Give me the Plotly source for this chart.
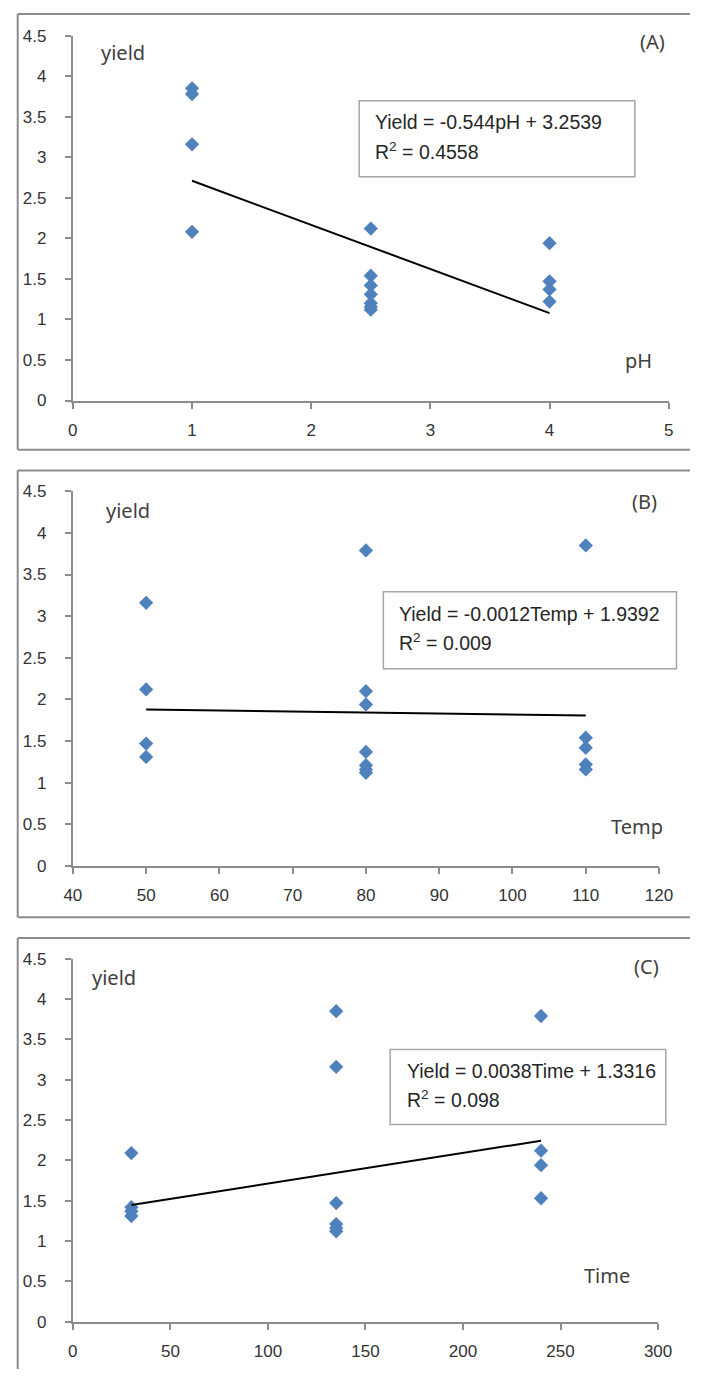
import plotly.graph_objects as go

W, H = 704, 1379

# ---------------- data ----------------
ph_x = [1, 1, 1, 1, 2.5, 2.5, 2.5, 2.5, 2.5, 2.5, 2.5, 4, 4, 4, 4]
ph_y = [3.85, 3.78, 3.16, 2.08, 2.12, 1.54, 1.42, 1.31, 1.20, 1.155, 1.12, 1.94, 1.47, 1.37, 1.22]
ph_fit = (-0.544, 3.2539)
ph_fit_range = [1, 4]

temp_x = [50, 50, 50, 50, 80, 80, 80, 80, 80, 80, 80, 110, 110, 110, 110, 110]
temp_y = [3.16, 2.12, 1.47, 1.31, 3.79, 2.10, 1.94, 1.37, 1.21, 1.16, 1.12, 3.85, 1.54, 1.42, 1.22, 1.16]
temp_fit = (-0.0012, 1.9392)
temp_fit_range = [50, 110]

time_x = [30, 30, 30, 30, 135, 135, 135, 135, 135, 135, 240, 240, 240, 240]
time_y = [2.09, 1.42, 1.37, 1.31, 3.85, 3.16, 1.47, 1.21, 1.16, 1.12, 3.79, 2.12, 1.94, 1.53]
time_fit = (0.0038, 1.3316)
time_fit_range = [30, 240]

eq_line1 = ["Yield = -0.544pH + 3.2539",
            "Yield = -0.0012Temp + 1.9392",
            "Yield = 0.0038Time + 1.3316"]
eq_line2 = ["R<sup>2</sup> = 0.4558", "R<sup>2</sup> = 0.009", "R<sup>2</sup> = 0.098"]
x_labels = ["pH", "Temp", "Time"]
panel_tags = ["(A)", "(B)", "(C)"]
x_ranges = [[0, 5], [40, 120], [0, 300]]
x_dticks = [1, 10, 50]

# ---------------- layout helpers ----------------
def px(x):
    return min(max(x, 0), W) / W

def py(y):
    return 1 - min(max(y, 0), H) / H

# frame: (left, top, bottom or None)
panels = [
    dict(frame=(9, 5, 447), plot=(66, 27, 682, 397), box=(362, 93, 647, 170),
         text=(376, 115, 144), ylab=(93, 44), tag=(680, 33), xlab=(667, 356)),
    dict(frame=(9, 468, 921), plot=(66, 489, 672, 869), box=(387, 591, 690, 669),
         text=(401, 613, 642), ylab=(98, 508), tag=(672, 499), xlab=(678, 829)),
    dict(frame=(9, 942, None), plot=(66, 963, 671, 1331), box=(394, 1055, 679, 1131),
         text=(409, 1077, 1105), ylab=(84, 982), tag=(674, 971), xlab=(644, 1284)),
]

datasets = [(ph_x, ph_y, ph_fit, ph_fit_range),
            (temp_x, temp_y, temp_fit, temp_fit_range),
            (time_x, time_y, time_fit, time_fit_range)]

fig = go.Figure()
shapes = []
annotations = []
axis_color = "#8c8c8c"
frame_line = dict(color="#8c8c8c", width=2)
tick_font = dict(family="Liberation Sans, Arial, sans-serif", size=17, color="#333333")
label_font = dict(family="Noto Sans, DejaVu Sans, sans-serif", size=20, color="#404040")
eq_font = dict(family="Liberation Sans, Arial, sans-serif", size=19.5, color="#262626")

for i, (p, (xs, ys, fit, fr)) in enumerate(zip(panels, datasets)):
    n = "" if i == 0 else str(i + 1)
    xa, ya = "x" + n, "y" + n
    fig.add_trace(go.Scatter(x=xs, y=ys, mode="markers", xaxis=xa, yaxis=ya,
                             marker=dict(symbol="diamond", size=11, color="#4F81BD"),
                             showlegend=False, hoverinfo="x+y"))
    fx = fr
    fy = [fit[0] * v + fit[1] for v in fx]
    fig.add_trace(go.Scatter(x=fx, y=fy, mode="lines", xaxis=xa, yaxis=ya,
                             line=dict(color="black", width=2), showlegend=False))
    x0, y0, x1, y1 = p["plot"]
    fig.layout["xaxis" + n] = dict(
        domain=[px(x0), px(x1)], range=x_ranges[i], dtick=x_dticks[i], tick0=0,
        anchor=ya, showgrid=False, zeroline=False, showline=True, linecolor=axis_color,
        linewidth=2, ticks="outside", ticklen=6, tickwidth=2, tickcolor=axis_color,
        tickfont=tick_font, ticklabelstandoff=7, fixedrange=True)
    fig.layout["yaxis" + n] = dict(
        domain=[py(y1), py(y0)], range=[0, 4.5], dtick=0.5, tick0=0,
        anchor=xa, showgrid=False, zeroline=False, showline=True, linecolor=axis_color,
        linewidth=2, ticks="outside", ticklen=6, tickwidth=2, tickcolor=axis_color,
        tickfont=tick_font, ticklabelstandoff=15, fixedrange=True)
    # outer frame (kept inside the page: left, top and bottom edges)
    fl, ft, fb = p["frame"]
    shapes.append(dict(type="line", xref="paper", yref="paper",
                       x0=px(fl), x1=1, y0=py(ft), y1=py(ft), line=frame_line))
    bottom = fb if fb is not None else H
    shapes.append(dict(type="line", xref="paper", yref="paper",
                       x0=px(fl), x1=px(fl), y0=py(ft), y1=py(bottom), line=frame_line))
    if fb is not None:
        shapes.append(dict(type="line", xref="paper", yref="paper",
                           x0=px(fl), x1=1, y0=py(fb), y1=py(fb), line=frame_line))
    # equation box
    bx0, by0, bx1, by1 = p["box"]
    shapes.append(dict(type="rect", xref="paper", yref="paper",
                       x0=px(bx0), x1=px(bx1), y0=py(by1), y1=py(by0),
                       line=dict(color="#a6a6a6", width=1.5), fillcolor="white", layer="above"))
    tx0, ty1, ty2 = p["text"]
    annotations.append(dict(xref="paper", yref="paper", x=px(tx0), y=py(ty1),
                            xanchor="left", yanchor="middle", align="left", showarrow=False,
                            text=eq_line1[i], font=eq_font))
    annotations.append(dict(xref="paper", yref="paper", x=px(tx0), y=py(ty2),
                            xanchor="left", yanchor="middle", align="left", showarrow=False,
                            text=eq_line2[i], font=eq_font))
    # labels
    lx, ly = p["ylab"]
    annotations.append(dict(xref="paper", yref="paper", x=px(lx), y=py(ly), xanchor="left",
                            yanchor="middle", showarrow=False, text="yield", font=label_font))
    tgx, tgy = p["tag"]
    annotations.append(dict(xref="paper", yref="paper", x=px(tgx), y=py(tgy), xanchor="right",
                            yanchor="middle", showarrow=False, text=panel_tags[i], font=label_font))
    xx, xy = p["xlab"]
    annotations.append(dict(xref="paper", yref="paper", x=px(xx), y=py(xy), xanchor="right",
                            yanchor="middle", showarrow=False, text=x_labels[i], font=label_font))

fig.update_layout(width=W, height=H, margin=dict(l=0, r=0, t=0, b=0),
                  paper_bgcolor="white", plot_bgcolor="white",
                  shapes=shapes, annotations=annotations, showlegend=False)

fig.write_html("out.html", config={"displayModeBar": False},
               post_script="document.body.style.margin='0';document.body.style.overflow='hidden';")
